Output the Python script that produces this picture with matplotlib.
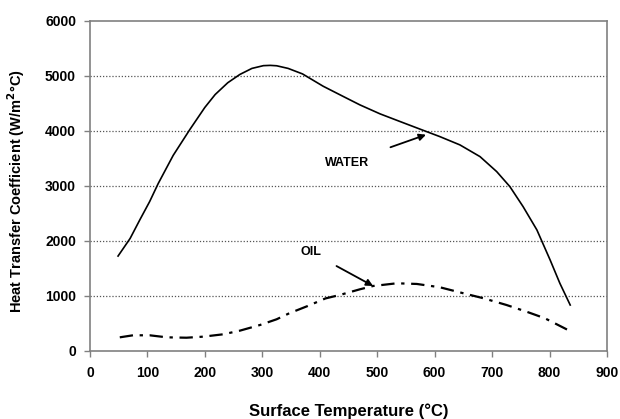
import numpy as np
import matplotlib
matplotlib.use('Agg')
import matplotlib.pyplot as plt

# water curve
water_t = [49, 70, 87, 104, 119, 145, 174, 200, 218, 240, 261, 282, 302, 314, 325, 345, 370,
           406, 441, 470, 505, 540, 575, 609, 644, 679, 708, 731, 754, 778, 801, 818, 836]
water_h = [1720, 2040, 2380, 2710, 3040, 3550, 4020, 4420, 4655, 4870, 5020, 5130, 5180, 5185, 5178,
           5130, 5030, 4806, 4620, 4467, 4304, 4164, 4025, 3891, 3740, 3527, 3255, 2982, 2618,
           2195, 1650, 1225, 830]

# oil curve
oil_t = [52, 75, 104, 134, 168, 197, 232, 261, 296, 325, 347, 379, 410, 435, 470, 493,
         534, 569, 609, 650, 685, 725, 760, 792, 838]
oil_h = [243, 280, 280, 243, 236, 255, 298, 364, 467, 571, 680, 812, 950, 1013, 1116, 1176,
         1225, 1213, 1153, 1044, 953, 831, 709, 589, 345]

x_ticks = [0, 100, 200, 300, 400, 500, 600, 700, 800, 900]
y_ticks = [0, 1000, 2000, 3000, 4000, 5000, 6000]

plt.rcParams['font.family'] = ['Liberation Sans', 'DejaVu Sans']
plt.rcParams['font.weight'] = 'bold'

fig = plt.figure(figsize=(6.2, 4.19), dpi=100)
ax = fig.add_axes([0.145, 0.163, 0.834, 0.788])

# dotted grid lines
for y in y_ticks[1:-1]:
    ax.axhline(y, color='#555555', lw=0.9, ls=(0, (1, 1.5)), zorder=1)

ax.plot(water_t, water_h, color='black', lw=1.2, zorder=3, solid_joinstyle='round')
ax.plot(oil_t, oil_h, color='black', lw=1.6, ls=(0, (6, 3, 1.5, 3)), zorder=3)

ax.annotate('WATER', xy=(585, 3925), xytext=(448, 3420), ha='center', va='center',
            fontsize=9, fontweight='bold',
            arrowprops=dict(arrowstyle='-|>', color='black', lw=1.3, mutation_scale=10,
                            shrinkA=14, shrinkB=0))
ax.annotate('OIL', xy=(493, 1176), xytext=(385, 1790), ha='center', va='center',
            fontsize=9, fontweight='bold',
            arrowprops=dict(arrowstyle='-|>', color='black', lw=1.3, mutation_scale=10,
                            shrinkA=10, shrinkB=0))

ax.set_xlim(0, 900)
ax.set_ylim(0, 6000)
ax.set_xticks(x_ticks)
ax.set_yticks(y_ticks)
ax.tick_params(direction='out', length=4, width=1, color='#808080', labelsize=10)
ax.tick_params(axis='x', pad=7)
ax.tick_params(axis='y', pad=6)
for s in ax.spines.values():
    s.set_color('#808080')
    s.set_linewidth(1.2)

ax.set_xlabel('Surface Temperature (\u00b0C)', fontsize=12, fontweight='bold')
ax.xaxis.set_label_coords(0.5, -0.16)
ax.set_ylabel('Heat Transfer Coefficient (W/m$^\\mathbf{2}$\u00b0C)', fontsize=10.5,
              fontweight='bold')
ax.yaxis.set_label_coords(-0.122, 0.485)

fig.savefig('out.png', dpi=100)
